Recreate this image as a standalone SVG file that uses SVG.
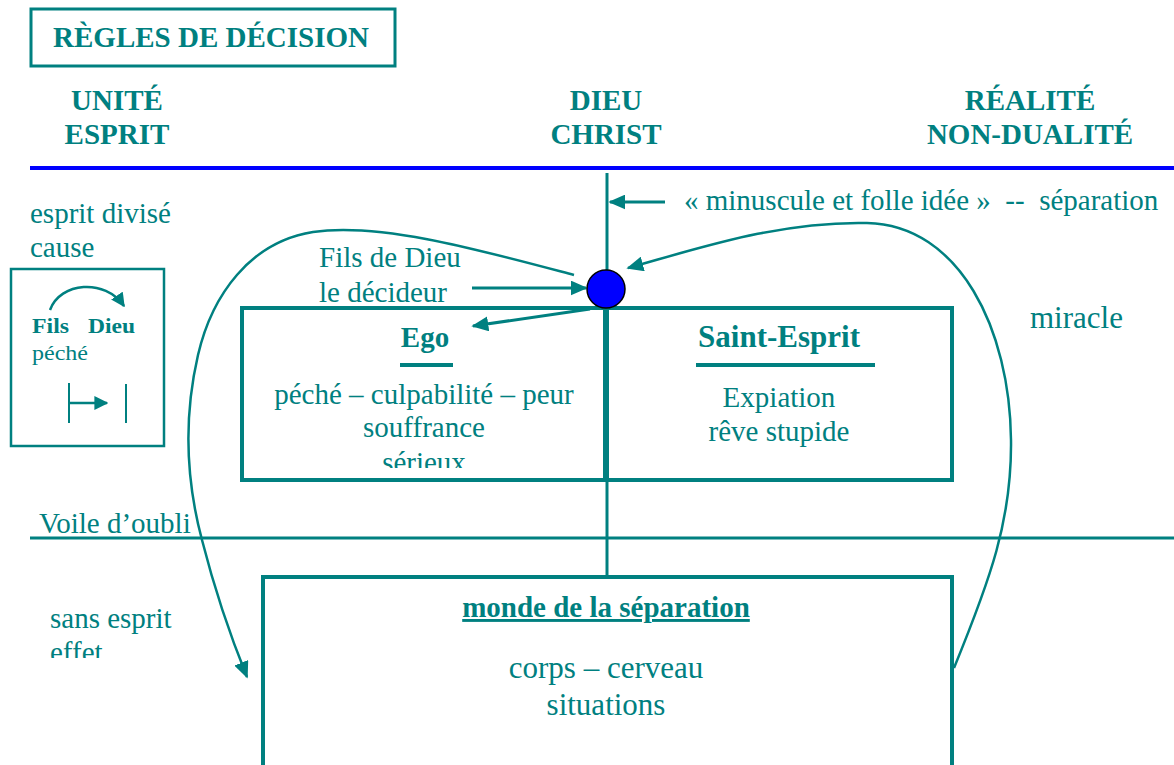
<svg xmlns="http://www.w3.org/2000/svg" width="1174" height="765" viewBox="0 0 1174 765">
<style>
.t{fill:#008080}
.h{font-weight:bold;font-size:29px}
.n{font-size:29px}
.s{font-size:22px}
.ln{stroke:#008080;fill:none}
</style>
<defs>
<marker id="ah" viewBox="0 0 10 10" refX="9" refY="5" markerWidth="14" markerHeight="14" markerUnits="userSpaceOnUse" orient="auto">
<path d="M0,0 L10,5 L0,10 z" fill="#008080"/>
</marker>
<marker id="ahb" viewBox="0 0 10 10" refX="9" refY="5" markerWidth="17" markerHeight="15" markerUnits="userSpaceOnUse" orient="auto" preserveAspectRatio="none">
<path d="M0,0 L10,5 L0,10 z" fill="#008080"/>
</marker>
<clipPath id="c1"><rect x="240" y="300" width="380" height="168"/></clipPath>
<clipPath id="c2"><rect x="0" y="590" width="240" height="68"/></clipPath>
</defs>
<rect width="1174" height="765" fill="#fff"/>
<g font-family="Liberation Serif, Times New Roman, serif">

<g id="title">
<rect x="31" y="9" width="364" height="57" class="ln" stroke-width="3"/>
<text x="211" y="47" text-anchor="middle" class="t h">RÈGLES DE DÉCISION</text>
</g>

<g id="headers">
<text x="117" y="110" text-anchor="middle" class="t h">UNITÉ</text>
<text x="117" y="144" text-anchor="middle" class="t h">ESPRIT</text>
<text x="606" y="110" text-anchor="middle" class="t h">DIEU</text>
<text x="606" y="144" text-anchor="middle" class="t h">CHRIST</text>
<text x="1030" y="110" text-anchor="middle" class="t h">RÉALITÉ</text>
<text x="1030" y="144" text-anchor="middle" class="t h">NON-DUALITÉ</text>
</g>

<g id="lines">
<line x1="30" y1="168" x2="1174" y2="168" stroke="#0000ff" stroke-width="4"/>
<line x1="30" y1="538" x2="1174" y2="538" class="ln" stroke-width="3"/>
</g>

<g id="left-box">
<text x="30" y="223" class="t n">esprit divisé</text>
<text x="30" y="257" class="t n">cause</text>
<rect x="11" y="269" width="153" height="177" class="ln" stroke-width="2.5"/>
<path d="M50,310 C60,282 105,278 124,306" class="ln" stroke-width="2.5" marker-end="url(#ah)"/>
<text x="32" y="333" class="t s" font-weight="bold" textLength="37" lengthAdjust="spacingAndGlyphs">Fils</text>
<text x="88" y="333" class="t s" font-weight="bold" textLength="47" lengthAdjust="spacingAndGlyphs">Dieu</text>
<text x="32" y="360" class="t s" textLength="56" lengthAdjust="spacingAndGlyphs">péché</text>
<line x1="69" y1="383" x2="69" y2="423" class="ln" stroke-width="2"/>
<line x1="69" y1="403" x2="107" y2="403" class="ln" stroke-width="2.5" marker-end="url(#ah)"/>
<line x1="126" y1="384" x2="126" y2="423" class="ln" stroke-width="2"/>
</g>

<g id="decider">
<text x="319" y="267" class="t n">Fils de Dieu</text>
<text x="319" y="302" class="t n">le décideur</text>
</g>

<g id="ego-box">
<rect x="242" y="308" width="710" height="172" class="ln" stroke-width="4"/>
<line x1="606" y1="308" x2="606" y2="480" class="ln" stroke-width="6"/>
<text x="425" y="347" text-anchor="middle" class="t h" font-size="30">Ego</text>
<line x1="400" y1="365" x2="453" y2="365" class="ln" stroke-width="4"/>
<g clip-path="url(#c1)">
<text x="424" y="404" text-anchor="middle" class="t n">péché – culpabilité – peur</text>
<text x="424" y="437" text-anchor="middle" class="t n">souffrance</text>
<text x="424" y="472" text-anchor="middle" class="t n">sérieux</text>
</g>
<text x="779" y="347" text-anchor="middle" class="t h" style="font-size:31px">Saint-Esprit</text>
<line x1="696" y1="365" x2="875" y2="365" class="ln" stroke-width="4"/>
<text x="779" y="407" text-anchor="middle" class="t n">Expiation</text>
<text x="779" y="441" text-anchor="middle" class="t n">rêve stupide</text>
</g>

<g id="miracle">
<text x="1030" y="328" class="t n" style="font-size:31px">miracle</text>
</g>

<g id="separation-label">
<text x="684" y="210" class="t n" xml:space="preserve">« minuscule et folle idée »  --  séparation</text>
</g>

<g id="veil">
<text x="39" y="533" class="t n">Voile d’oubli</text>
</g>

<g id="sans-esprit">
<g clip-path="url(#c2)">
<text x="50" y="628" class="t n">sans esprit</text>
<text x="50" y="662" class="t n">effet</text>
</g>
</g>

<g id="world-box">
<path d="M263,765 V577 H952 V765" class="ln" stroke-width="4"/>
<text x="606" y="617" text-anchor="middle" class="t h" text-decoration="underline">monde de la séparation</text>
<text x="606" y="678" text-anchor="middle" class="t n" style="font-size:31px">corps – cerveau</text>
<text x="606" y="715" text-anchor="middle" class="t n" style="font-size:31px">situations</text>
</g>

</g>

<g id="connectors">
<line x1="607" y1="173" x2="607" y2="270" class="ln" stroke-width="3"/>
<line x1="607" y1="480" x2="607" y2="577" class="ln" stroke-width="3"/>
<line x1="665" y1="202" x2="610" y2="202" class="ln" stroke-width="3" marker-end="url(#ahb)"/>
<line x1="472" y1="288" x2="586" y2="288" class="ln" stroke-width="3" marker-end="url(#ahb)"/>
<line x1="590" y1="309" x2="473" y2="326" class="ln" stroke-width="3" marker-end="url(#ahb)"/>
<path d="M574,275 C480,250 380,222 313,232 C250,242 212,295 198,355 C183,420 186,480 202,540 C216,595 232,640 247,677" class="ln" stroke-width="2.5" marker-end="url(#ahb)"/>
<path d="M954,668 C990,580 1012,520 1011,440 C1010,330 960,225 867,223 C780,221 700,248 628,268" class="ln" stroke-width="2.5" marker-end="url(#ahb)"/>
</g>

<g id="decider-node">
<circle cx="606" cy="289" r="19" fill="#0000ff" stroke="#000" stroke-width="1.5"/>
</g>
</svg>
